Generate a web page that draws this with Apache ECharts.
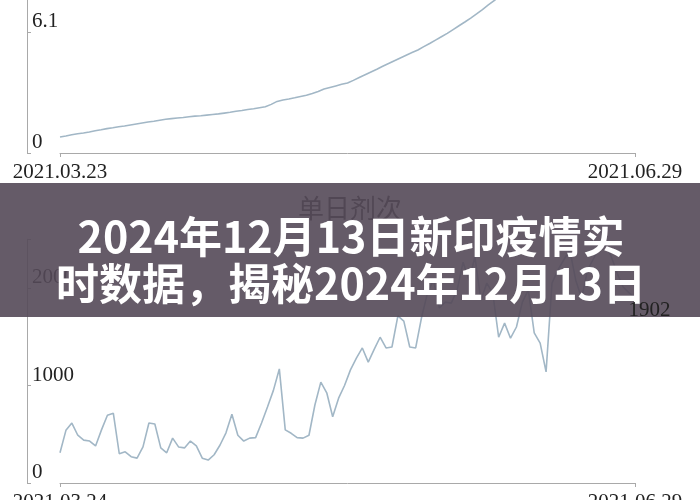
<!DOCTYPE html>
<html><head><meta charset="utf-8">
<script src="https://cdn.jsdelivr.net/npm/echarts@6/dist/echarts.min.js"></script>
<style>html,body{margin:0;padding:0;background:#fff}#c{width:700px;height:500px}</style>
</head><body><div id="c"></div>
<script>
function dateRange(start, end) {
  const out = [];
  const d = new Date(start + 'T00:00:00Z');
  const e = new Date(end + 'T00:00:00Z');
  while (d <= e) {
    const m = String(d.getUTCMonth() + 1).padStart(2, '0');
    const day = String(d.getUTCDate()).padStart(2, '0');
    out.push(d.getUTCFullYear() + '.' + m + '.' + day);
    d.setUTCDate(d.getUTCDate() + 1);
  }
  return out;
}
const topDates = dateRange('2021-03-23', '2021-06-29');
const bottomDates = dateRange('2021-03-24', '2021-06-29');

const cumulative = [
  0.81,0.86,0.92,0.97,1.01,1.06,1.12,1.17,1.23,1.27,
  1.32,1.36,1.41,1.46,1.51,1.56,1.60,1.65,1.70,1.73,
  1.76,1.79,1.83,1.86,1.88,1.91,1.94,1.97,2.01,2.05,
  2.10,2.14,2.19,2.23,2.28,2.33,2.45,2.60,2.67,2.72,
  2.78,2.85,2.91,3.00,3.10,3.22,3.30,3.38,3.46,3.53,
  3.66,3.80,3.94,4.08,4.22,4.37,4.51,4.65,4.79,4.93,
  5.06,5.19,5.36,5.52,5.69,5.86,6.03,6.22,6.41,6.60,
  6.80,7.01,7.23,7.46,7.68,7.91,8.14,8.37,8.60,8.83,
  9.05,9.28,9.50,9.72,9.95,10.2,10.4,10.6,10.9,11.1,
  11.3,11.6,11.8,12.0,12.3,12.5,12.7,12.9,13.1
];
const daily = [
  310,540,615,490,440,430,380,545,695,715,
  300,320,270,255,370,615,605,360,310,460,
  370,360,430,380,255,235,290,390,515,705,
  490,430,460,465,615,780,950,1170,545,510,
  465,460,490,800,1035,925,680,870,1000,1160,
  1280,1385,1240,1370,1495,1385,1395,1715,1660,1395,
  1385,1700,1950,2080,1795,1855,1845,1980,2265,2080,
  2320,1875,2050,1950,1495,1640,1485,1600,1855,1980,
  1540,1435,1140,2050,2185,2290,2390,2080,1895,2185,
  2300,2420,2460,2320,2150,2010,1950,1902
];
const topYLabels = [0, 6.1];
const topYTicks = [0, 6.1];
const bottomYLabels = [0, 1000, 2000];
const bottomYTicks = [0, 1000, 2000, 2500];
const chartTitle = '单日剂次';
const bannerLines = ['2024年12月13日新印疫情实', '时数据，揭秘2024年12月13日'];

const serif = '"Liberation Serif", "Times New Roman", serif';
const axisGray = '#a9a9a9';
const lineColor = '#a2b7c6';

function endsOnly(len) {
  return function (i) { return i === 0 || i === len - 1; };
}
function xAxisCfg(gi, data) {
  return {
    type: 'category', gridIndex: gi, data: data, boundaryGap: false,
    axisLine: { show: true, lineStyle: { color: axisGray, width: 1 } },
    axisTick: { show: true, length: 4, interval: endsOnly(data.length), lineStyle: { color: axisGray } },
    axisLabel: { show: true, interval: endsOnly(data.length), margin: 9, fontSize: 21, fontFamily: serif, color: '#222' },
    splitLine: { show: false }
  };
}
function yAxisCfg(gi, max, labels, ticks) {
  return {
    type: 'value', gridIndex: gi, min: 0, max: max, offset: 33,
    axisLine: { show: true, lineStyle: { color: axisGray, width: 1 } },
    axisTick: { show: true, inside: true, length: 4, customValues: ticks, lineStyle: { color: axisGray } },
    axisLabel: { show: true, inside: true, customValues: labels, margin: 5, verticalAlign: 'bottom',
      formatter: function (v) { return String(v); },
      fontSize: 21, fontFamily: serif, color: '#222' },
    splitLine: { show: false }
  };
}

const lastIdx = daily.length - 1;

const chart = echarts.init(document.getElementById('c'), null, { renderer: 'canvas' });
chart.setOption({
  animation: false,
  backgroundColor: '#fff',
  title: {
    text: chartTitle, left: 'center', top: 190,
    textStyle: { fontSize: 26, fontWeight: 'normal', color: '#333', fontFamily: '"Noto Sans CJK SC", sans-serif' }
  },
  grid: [
    { left: 60, right: 65, top: 0, height: 153, outerBoundsMode: 'none', containLabel: false },
    { left: 60, right: 65, top: 483 - 243.75, height: 243.75, outerBoundsMode: 'none', containLabel: false }
  ],
  xAxis: [xAxisCfg(0, topDates), xAxisCfg(1, bottomDates)],
  yAxis: [yAxisCfg(0, 7.71, topYLabels, topYTicks), yAxisCfg(1, 2500, bottomYLabels, bottomYTicks)],
  series: [
    { type: 'line', xAxisIndex: 0, yAxisIndex: 0, data: cumulative, symbol: 'none',
      lineStyle: { color: lineColor, width: 1.6 } },
    { type: 'line', xAxisIndex: 1, yAxisIndex: 1, data: daily, symbol: 'none',
      lineStyle: { color: lineColor, width: 1.6 },
      markPoint: {
        z: 102,
        symbol: 'circle', symbolSize: 1, itemStyle: { color: 'rgba(0,0,0,0)' },
        data: [{ coord: [bottomDates[lastIdx], daily[lastIdx]], value: daily[lastIdx] }],
        label: { show: true, position: 'right', distance: 0, offset: [-7, 13],
          formatter: function (p) { return String(p.value); },
          fontSize: 21, fontFamily: serif, color: '#222' }
      } }
  ],
  graphic: [
    { type: 'rect', z: 100, shape: { x: 0, y: 183, width: 700, height: 134 },
      style: { fill: 'rgba(84,73,88,0.9)' } },
    { type: 'text', z: 101, style: { text: bannerLines[0], x: 351, y: 237, textAlign: 'center', textVerticalAlign: 'middle',
      font: 'bold 43px "Noto Sans CJK SC", sans-serif', fill: '#fff' } },
    { type: 'text', z: 101, style: { text: bannerLines[1], x: 351, y: 284, textAlign: 'center', textVerticalAlign: 'middle',
      font: 'bold 43px "Noto Sans CJK SC", sans-serif', fill: '#fff' } }
  ]
});
</script>
</body></html>
